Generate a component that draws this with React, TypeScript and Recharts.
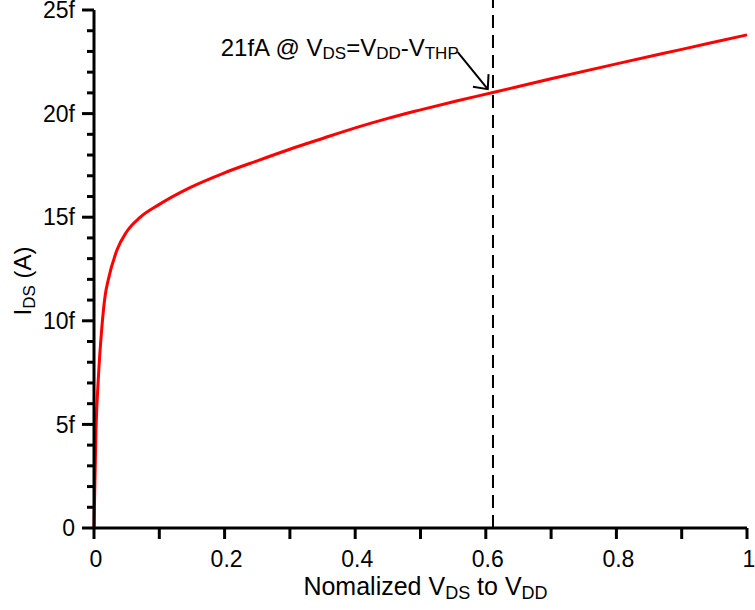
import React from "react";
import { LineChart, Line, XAxis, YAxis, ReferenceLine } from "recharts";

// Normalized V_DS to V_DD
const vdsNorm = [0, 0.003, 0.0066, 0.0118, 0.017, 0.022, 0.035, 0.05, 0.07, 0.1, 0.147, 0.198, 0.249, 0.3, 0.35, 0.4, 0.45, 0.5, 0.555, 0.611, 0.7, 0.8, 0.9, 1.0];
// I_DS in fA
const idsFemto = [0, 4.7, 7.2, 9.6, 11.2, 12.0, 13.4, 14.3, 14.98, 15.62, 16.43, 17.12, 17.71, 18.28, 18.8, 19.31, 19.77, 20.18, 20.61, 21.02, 21.68, 22.4, 23.1, 23.8];

const xTicks = [0, 0.1, 0.2, 0.3, 0.4, 0.5, 0.6, 0.7, 0.8, 0.9, 1];
const xLabeled = [0, 0.2, 0.4, 0.6, 0.8, 1];
const yTicks = [0, 1, 2, 3, 4, 5, 6, 7, 8, 9, 10, 11, 12, 13, 14, 15, 16, 17, 18, 19, 20, 21, 22, 23, 24, 25];
const yLabeled = [0, 5, 10, 15, 20, 25];

const markerX = 0.611;
const arrowFrom = { x: 0.557, y: 22.97 };
const arrowTo = { x: 0.603, y: 21.18 };

const data = vdsNorm.map((x, i) => ({ x, y: idsFemto[i] }));

const FONT = "'Liberation Sans', Arial, sans-serif";

const fmtX = (v: number) => (v === 0 ? "0" : v === 1 ? "1" : String(v));
const fmtY = (v: number) => (v === 0 ? "0" : v + "f");

const XTick = (props: any) => {
  const { x, y, payload } = props;
  const v = payload.value;
  const labeled = xLabeled.some((t) => Math.abs(t - v) < 1e-9);
  return (
    <g>
      <line x1={x} x2={x} y1={y} y2={y + 11} stroke="#000" strokeWidth={3} />
      {labeled && (
        <text x={x + 2} y={y + 39} textAnchor="middle" fontFamily={FONT} fontSize={23} fill="#000">
          {fmtX(v)}
        </text>
      )}
    </g>
  );
};

const YTick = (props: any) => {
  const { x, y, payload } = props;
  const v = payload.value;
  const major = yLabeled.includes(v);
  return (
    <g>
      <line x1={x - (major ? 12 : 7)} x2={x} y1={y} y2={y} stroke="#000" strokeWidth={3} />
      {major && (
        <text x={x - 19} y={y} dy="0.36em" textAnchor="end" fontFamily={FONT} fontSize={23} fill="#000">
          {fmtY(v)}
        </text>
      )}
    </g>
  );
};

const ArrowShape = (props: any) => {
  const { x1, y1, x2, y2 } = props;
  if ([x1, y1, x2, y2].some((v) => typeof v !== "number" || isNaN(v))) return null;
  const ang = Math.atan2(y2 - y1, x2 - x1);
  const L = 15;
  const spread = (42 * Math.PI) / 180;
  const a1 = ang + Math.PI - spread;
  const a2 = ang + Math.PI + spread;
  return (
    <g>
      <line x1={x1} y1={y1} x2={x2} y2={y2} stroke="#000" strokeWidth={2} />
      <polyline
        points={`${x2 + L * Math.cos(a1)},${y2 + L * Math.sin(a1)} ${x2},${y2} ${x2 + L * Math.cos(a2)},${y2 + L * Math.sin(a2)}`}
        fill="none"
        stroke="#000"
        strokeWidth={2}
      />
      <text x={x1 + 1} y={y1 + 4} textAnchor="end" fontFamily={FONT} fontSize={24} fill="#000">
        21fA @ V
        <tspan fontSize={17} dy={3}>DS</tspan>
        <tspan dy={-3}>=V</tspan>
        <tspan fontSize={17} dy={3}>DD</tspan>
        <tspan dy={-3}>-V</tspan>
        <tspan fontSize={17} dy={3}>THP</tspan>
      </text>
    </g>
  );
};

const XLabel = (props: any) => {
  const vb = props.viewBox || { x: 94, y: 528, width: 653 };
  return (
    <text x={vb.x + vb.width / 2 + 5} y={vb.y + 67} textAnchor="middle" fontFamily={FONT} fontSize={25} fill="#000">
      Nomalized V
      <tspan fontSize={18} dy={4}>DS</tspan>
      <tspan dy={-4}> to V</tspan>
      <tspan fontSize={18} dy={4}>DD</tspan>
    </text>
  );
};

const YLabel = (props: any) => {
  const vb = props.viewBox || { x: 0, y: 10, width: 94, height: 518 };
  const cx = vb.x + 31;
  const cy = vb.y + vb.height / 2 + 12;
  return (
    <text x={cx} y={cy} transform={`rotate(-90, ${cx}, ${cy})`} textAnchor="middle" fontFamily={FONT} fontSize={24} fill="#000">
      I
      <tspan fontSize={17} dy={4}>DS</tspan>
      <tspan dy={-4}> (A)</tspan>
    </text>
  );
};

export default function App() {
  return (
    <div style={{ position: "absolute", left: 0, top: 0, width: 755, height: 610, background: "#fff" }}>
      <LineChart width={755} height={610} data={data} margin={{ top: 10, right: 8, bottom: 0, left: 0 }} style={{ overflow: "visible" }}>
        <XAxis
          dataKey="x"
          type="number"
          domain={[0, 1]}
          ticks={xTicks}
          interval={0}
          tickSize={0}
          tickMargin={0}
          tickLine={false}
          tick={<XTick />}
          axisLine={{ stroke: "#000", strokeWidth: 3 }}
          height={82}
          label={<XLabel />}
        />
        <YAxis
          type="number"
          domain={[0, 25]}
          ticks={yTicks}
          interval={0}
          tickSize={0}
          tickMargin={0}
          tickLine={false}
          tick={<YTick />}
          axisLine={{ stroke: "#000", strokeWidth: 3 }}
          width={94}
          label={<YLabel />}
        />
        <ReferenceLine
          segment={[{ x: markerX, y: 0 }, { x: markerX, y: 25.5 }]}
          stroke="#000"
          strokeWidth={2}
          strokeDasharray="13 7"
          ifOverflow="visible"
        />
        <Line
          type="monotone"
          dataKey="y"
          stroke="#ff0000"
          strokeWidth={3}
          dot={false}
          isAnimationActive={false}
        />
        <ReferenceLine segment={[arrowFrom, arrowTo]} ifOverflow="visible" shape={<ArrowShape />} />
      </LineChart>
    </div>
  );
}
